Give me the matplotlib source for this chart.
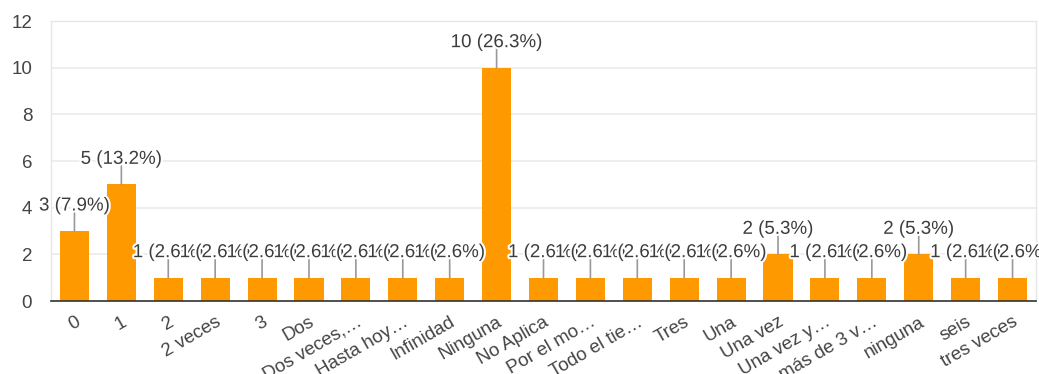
import matplotlib
matplotlib.use("Agg")
import matplotlib.pyplot as plt
import matplotlib.patheffects as pe

categories = ["0", "1", "2", "2 veces", "3", "Dos", "Dos veces,…", "Hasta hoy…",
              "Infinidad", "Ninguna", "No Aplica", "Por el mo…", "Todo el tie…",
              "Tres", "Una", "Una vez", "Una vez y…", "más de 3 v…", "ninguna",
              "seis", "tres veces"]
counts = [3, 5, 1, 1, 1, 1, 1, 1, 1, 10, 1, 1, 1, 1, 1, 2, 1, 1, 2, 1, 1]
y_ticks = [0, 2, 4, 6, 8, 10, 12]

BAR = "#ff9900"
TEXT = "#3d3d3d"
GRID = "#ebebeb"

plt.rcParams["font.family"] = ["Liberation Sans", "DejaVu Sans"]

fig = plt.figure(figsize=(10.39, 3.74), dpi=100)
ax = fig.add_axes([51 / 1039, 73 / 374, 985 / 1039, 280 / 374])

x = list(range(len(categories)))
ax.bar(x, counts, width=0.62, color=BAR, zorder=2)

ax.set_xlim(-0.5, len(categories) - 0.5)
ax.set_ylim(0, 12)
ax.set_yticks(y_ticks)
ax.set_yticklabels([str(t) for t in y_ticks], fontsize=13.5, color="#444444")
ax.yaxis.grid(True, color=GRID, lw=1.2, zorder=0)
ax.tick_params(axis="y", length=0, pad=13.5)
ax.tick_params(axis="x", length=0, pad=9)

ax.set_xticks(x)
ax.set_xticklabels(categories, rotation=30, ha="right", rotation_mode="anchor",
                   fontsize=13.5, color="#444444")

for side in ("top", "left", "right"):
    ax.spines[side].set_color("#e6e6e6")
    ax.spines[side].set_linewidth(1)
ax.spines["bottom"].set_color("#333333")
ax.spines["bottom"].set_linewidth(1.2)
ax.spines["bottom"].set_zorder(3)

total = sum(counts)
halo = [pe.withStroke(linewidth=3, foreground="white")]
for xi, v in zip(x, counts):
    ax.annotate("", xy=(xi, v), xytext=(0, 13.7), textcoords="offset points",
                arrowprops=dict(arrowstyle="-", color="#999999", lw=1.2,
                                shrinkA=0, shrinkB=0), zorder=3)
    pct = v / total * 100
    ax.annotate(f"{v} ({pct:.1f}%)", xy=(xi, v), xytext=(0, 18),
                textcoords="offset points", ha="center", va="center",
                fontsize=13.5, color=TEXT, path_effects=halo, zorder=4,
                annotation_clip=False)

fig.savefig("out.png", dpi=100, facecolor="white")
